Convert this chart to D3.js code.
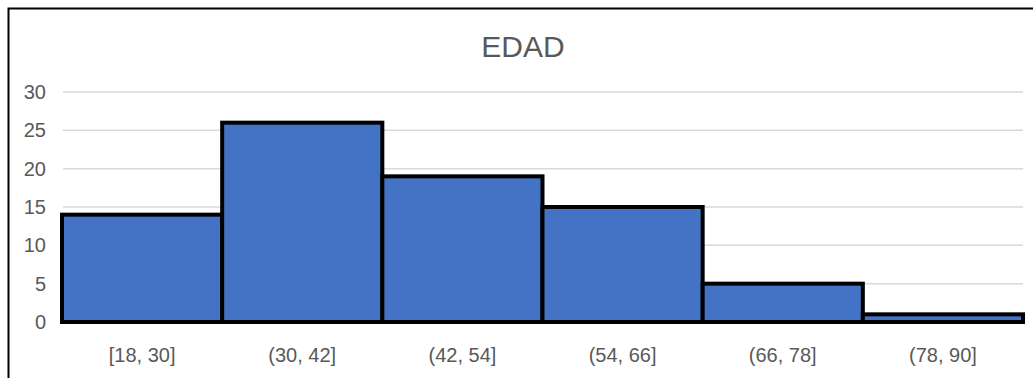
<!DOCTYPE html>
<html>
<head>
<meta charset="utf-8">
<script src="https://cdn.jsdelivr.net/npm/d3@7"></script>
<style>
  body { margin: 0; background: #fff; }
  text { font-family: "Liberation Sans", Arial, sans-serif; fill: #595959; }
</style>
</head>
<body>
<svg id="chart"></svg>
<script>
const bins = ["[18, 30]", "(30, 42]", "(42, 54]", "(54, 66]", "(66, 78]", "(78, 90]"];
const counts = [14, 26, 19, 15, 5, 1];
const yTicks = [0, 5, 10, 15, 20, 25, 30];

const width = 1033, height = 378;
const svg = d3.select("#chart").attr("width", width).attr("height", height);

// chart frame (right and bottom edges are outside the picture)
svg.append("path")
  .attr("d", "M 8.5 " + height + " L 8.5 8.5 L " + width + " 8.5")
  .attr("fill", "none")
  .attr("stroke", "#000")
  .attr("stroke-width", 2);

svg.append("text")
  .attr("x", 523)
  .attr("y", 57)
  .attr("text-anchor", "middle")
  .attr("font-size", 30)
  .text("EDAD");

const x = d3.scaleBand().domain(bins).range([62, 1023]).padding(0);
const y = d3.scaleLinear().domain([0, 30]).range([322, 92]);

// gridlines
svg.append("g")
  .selectAll("line")
  .data(yTicks.filter(d => d > 0))
  .enter()
  .append("line")
  .attr("x1", 63)
  .attr("x2", 1023)
  .attr("y1", d => y(d))
  .attr("y2", d => y(d))
  .attr("stroke", "#d9d9d9")
  .attr("stroke-width", 1.5);

// y labels
svg.append("g")
  .selectAll("text")
  .data(yTicks)
  .enter()
  .append("text")
  .attr("x", 46)
  .attr("y", d => y(d) + 7)
  .attr("text-anchor", "end")
  .attr("font-size", 20)
  .text(d => d);

// axis line
svg.append("line")
  .attr("x1", 62)
  .attr("x2", 1023)
  .attr("y1", y(0) + 1)
  .attr("y2", y(0) + 1)
  .attr("stroke", "#a6a6a6")
  .attr("stroke-width", 2);

// bars
svg.append("g")
  .selectAll("rect")
  .data(counts)
  .enter()
  .append("rect")
  .attr("x", (d, i) => x(bins[i]))
  .attr("y", d => y(d))
  .attr("width", x.bandwidth())
  .attr("height", d => y(0) - y(d))
  .attr("fill", "#4472c4")
  .attr("stroke", "#000")
  .attr("stroke-width", 4);

// x labels
svg.append("g")
  .selectAll("text")
  .data(bins)
  .enter()
  .append("text")
  .attr("x", d => x(d) + x.bandwidth() / 2)
  .attr("y", 362)
  .attr("text-anchor", "middle")
  .attr("font-size", 20)
  .text(d => d);
</script>
</body>
</html>
